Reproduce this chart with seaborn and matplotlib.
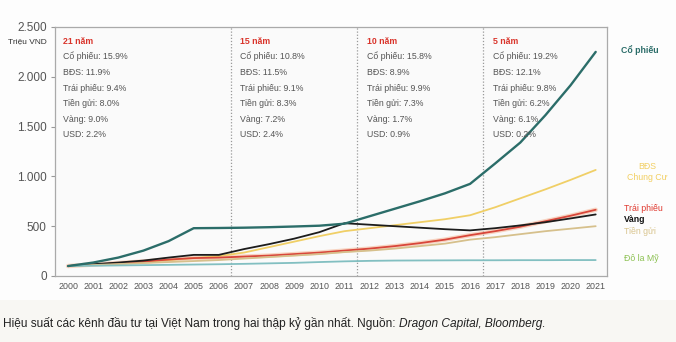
import matplotlib
matplotlib.use("Agg")
import matplotlib.pyplot as plt
import seaborn as sns
import pandas as pd
import numpy as np

years = list(range(2000, 2022))
co_phieu = [100, 135, 185, 255, 350, 480, 482, 485, 490, 497, 505, 525, 600, 675, 750, 830, 925, 1130, 1340, 1615, 1915, 2250]
bds = [100, 112, 125, 140, 160, 180, 200, 235, 290, 345, 400, 450, 480, 510, 540, 570, 610, 690, 780, 870, 965, 1065]
trai_phieu = [100, 115, 130, 145, 165, 180, 185, 195, 205, 220, 235, 255, 275, 300, 330, 365, 410, 450, 495, 550, 605, 665]
vang = [100, 118, 135, 155, 185, 212, 212, 270, 320, 375, 440, 530, 515, 500, 485, 470, 458, 480, 508, 540, 578, 618]
tien_gui = [100, 110, 120, 130, 140, 150, 160, 175, 190, 205, 220, 240, 255, 275, 300, 325, 365, 390, 420, 450, 475, 500]
usd = [100, 103, 106, 109, 112, 115, 118, 122, 127, 132, 140, 147, 152, 155, 156, 157, 158, 158, 159, 159, 160, 160]

series_names = ["Cổ phiếu", "BĐS", "Trái phiếu", "Vàng", "Tiền gửi", "USD"]
series_vals = [co_phieu, bds, trai_phieu, vang, tien_gui, usd]
colors = {"Cổ phiếu": "#2b6d69", "BĐS": "#f0cf66", "Trái phiếu": "#d8463a",
          "Vàng": "#1c1c1c", "Tiền gửi": "#d6c08c", "USD": "#82bfc1"}

periods = ["21 năm", "15 năm", "10 năm", "5 năm"]
period_start = [1999.5, 2006.5, 2011.5, 2016.5]
stats = [
    ["Cổ phiếu: 15.9%", "BĐS: 11.9%", "Trái phiếu: 9.4%", "Tiền gửi: 8.0%", "Vàng: 9.0%", "USD: 2.2%"],
    ["Cổ phiếu: 10.8%", "BĐS: 11.5%", "Trái phiếu: 9.1%", "Tiền gửi: 8.3%", "Vàng: 7.2%", "USD: 2.4%"],
    ["Cổ phiếu: 15.8%", "BĐS: 8.9%", "Trái phiếu: 9.9%", "Tiền gửi: 7.3%", "Vàng: 1.7%", "USD: 0.9%"],
    ["Cổ phiếu: 19.2%", "BĐS: 12.1%", "Trái phiếu: 9.8%", "Tiền gửi: 6.2%", "Vàng: 6.1%", "USD: 0.2%"],
]
yticks = [0, 500, 1000, 1500, 2000, 2500]
ytick_labels = ["0", "500", "1.000", "1.500", "2.000", "2.500"]

rows = []
for n, v in zip(series_names, series_vals):
    for y, val in zip(years, v):
        rows.append({"year": y, "value": val, "series": n})
df = pd.DataFrame(rows)

sns.set_theme(style="white")
plt.rcParams["font.family"] = ["Liberation Sans", "DejaVu Sans"]

fig = plt.figure(figsize=(6.76, 3.42), dpi=100, facecolor="#fdfdfd")
# caption band
fig.patches.append(plt.Rectangle((0, 0), 1, 42 / 342, transform=fig.transFigure,
                                 facecolor="#f8f7f3", edgecolor="none", zorder=0))
ax = fig.add_axes([55 / 676, 1 - 276 / 342, (607 - 55) / 676, (276 - 27) / 342])
ax.set_facecolor("#fafafa")

# pale halo for the bond line
ax.plot(years, trai_phieu, color="#f5a77f", lw=3.2, alpha=0.45, zorder=1, solid_capstyle="round")
sns.lineplot(data=df, x="year", y="value", hue="series", palette=colors, ax=ax,
             legend=False, linewidth=1.3, zorder=2)
for line in ax.get_lines():
    if tuple(np.round(matplotlib.colors.to_rgb(line.get_color()), 3)) == tuple(np.round(matplotlib.colors.to_rgb(colors["Cổ phiếu"]), 3)):
        line.set_linewidth(1.7)
        line.set_zorder(3)

ax.set_xlim(1999.48, 2021.45)
ax.set_ylim(0, 2500)
ax.set_xticks(years)
ax.set_xticklabels([str(y) for y in years], fontsize=6.4, color="#555555")
ax.set_xticks([y + 0.5 for y in years[:-1]], minor=True)
ax.tick_params(axis="x", which="major", length=0, pad=4)
ax.tick_params(axis="x", which="minor", length=3, direction="in", color="#999999", width=0.8)
ax.set_yticks(yticks)
ax.set_yticklabels(ytick_labels, fontsize=8.5, color="#555555")
ax.tick_params(axis="y", length=3, direction="out", color="#999999", width=0.8, pad=3, left=True)
ax.set_xlabel("")
ax.set_ylabel("")
for s in ax.spines.values():
    s.set_color("#aaaaaa")
    s.set_linewidth(0.9)

for xv in period_start[1:]:
    ax.axvline(xv, color="#9a9a9a", lw=0.9, ls=(0, (1, 1.5)), zorder=1)

offsets = [0.28, 0.36, 0.38, 0.42]
for i, (p, st) in enumerate(zip(periods, stats)):
    x0 = period_start[i] + offsets[i]
    ax.text(x0, 1 - (42 - 27) / 249, p, transform=ax.get_xaxis_transform(), color="#d9342b",
            fontsize=6.3, fontweight="bold", va="center", ha="left")
    for j, t in enumerate(st):
        ypix = [56.5, 72.3, 88.2, 103.7, 119.2, 134.6][j]
        ax.text(x0, 1 - (ypix - 27) / 249, t, transform=ax.get_xaxis_transform(), color="#555555",
                fontsize=6.3, va="center", ha="left")

fig.text(47 / 676, 1 - 42 / 342, "Triệu VND", fontsize=6, color="#333333", ha="right", va="center")

fig.text(621 / 676, 1 - 50 / 342, "Cổ phiếu", fontsize=6.3, color="#2b6d69", fontweight="bold", ha="left", va="center")
fig.text(647 / 676, 1 - 166.5 / 342, "BĐS", fontsize=6.3, color="#f2cf62", ha="center", va="center")
fig.text(647 / 676, 1 - 177 / 342, "Chung Cư", fontsize=6.3, color="#f2cf62", ha="center", va="center")
fig.text(624 / 676, 1 - 208.5 / 342, "Trái phiếu", fontsize=6.3, color="#e0392f", ha="left", va="center")
fig.text(624 / 676, 1 - 220 / 342, "Vàng", fontsize=6.3, color="#111111", fontweight="bold", ha="left", va="center")
fig.text(624 / 676, 1 - 231 / 342, "Tiền gửi", fontsize=6.3, color="#d9c58f", ha="left", va="center")
fig.text(624 / 676, 1 - 258.5 / 342, "Đô la Mỹ", fontsize=6.3, color="#8cc152", ha="left", va="center")

fig.text(3 / 676, 1 - 324 / 342,
         "Hiệu suất các kênh đầu tư tại Việt Nam trong hai thập kỷ gần nhất. Nguồn: ",
         fontsize=8.6, color="#222222", ha="left", va="center")
cap = fig.texts[-1]
fig.canvas.draw()
bb = cap.get_window_extent()
fig.text(bb.x1 / fig.bbox.width, 1 - 324 / 342, "Dragon Capital, Bloomberg.", fontsize=8.6,
         color="#222222", style="italic", ha="left", va="center")

fig.savefig("out.png", dpi=100, facecolor=fig.get_facecolor())
